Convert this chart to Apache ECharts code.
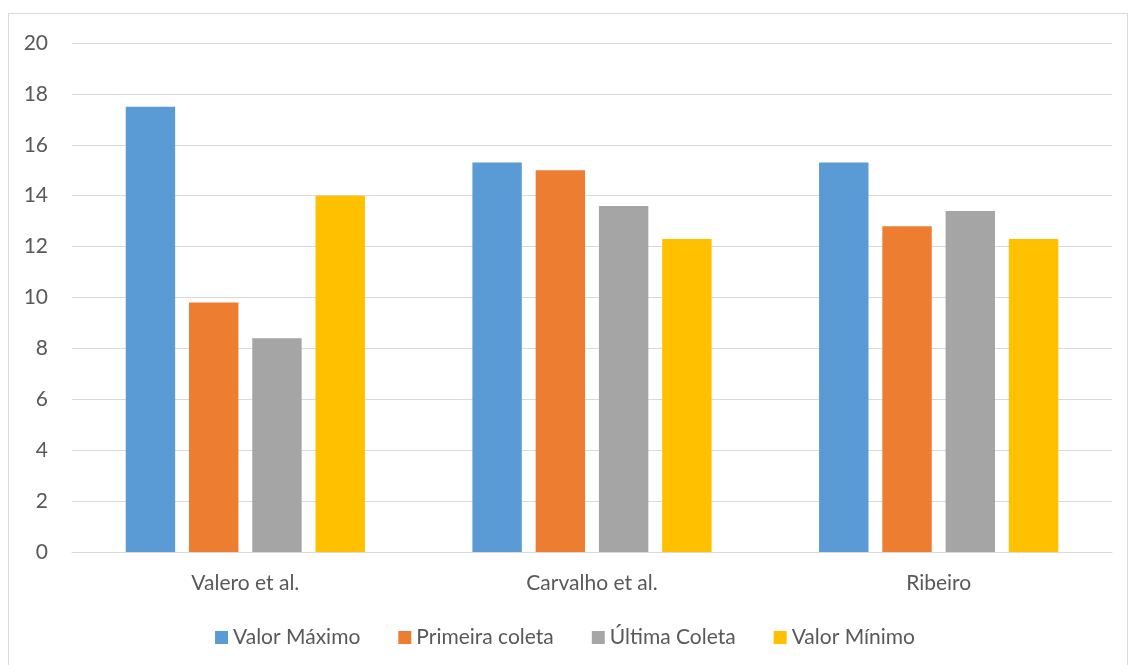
<!DOCTYPE html>
<html>
<head>
<meta charset="utf-8">
<title>Coletas</title>
<script src="https://cdn.jsdelivr.net/npm/echarts@6/dist/echarts.min.js"></script>
<style>
  html, body { margin: 0; padding: 0; background: #fff; }
  #frame { position: absolute; left: 8px; top: 13px; width: 1120px; height: 660px; border: 1px solid #d9d9d9; box-sizing: border-box; }
  #chart { position: absolute; left: 0; top: 0; width: 1130px; height: 665px; }
</style>
</head>
<body>
<div id="frame"></div>
<div id="chart"></div>
<script type="text/javascript">
var categories = ['Valero et al.', 'Carvalho et al.', 'Ribeiro'];
var seriesNames = ['Valor Máximo', 'Primeira coleta', 'Última Coleta', 'Valor Mínimo'];
var valorMaximo = [17.5, 15.3, 15.3];
var primeiraColeta = [9.8, 15.0, 12.8];
var ultimaColeta = [8.4, 13.6, 13.4];
var valorMinimo = [14.0, 12.3, 12.3];
var colors = ['#5B9BD5', '#ED7D31', '#A5A5A5', '#FFC000'];

var allValues = [valorMaximo, primeiraColeta, ultimaColeta, valorMinimo];
var series = [];
for (var i = 0; i < seriesNames.length; i++) {
    series.push({
        name: seriesNames[i],
        type: 'bar',
        data: allValues[i],
        barGap: '28%',
        barCategoryGap: '31%',
        itemStyle: { color: colors[i] }
    });
}

var myChart = echarts.init(document.getElementById('chart'), null, { renderer: 'canvas' });
var font = 'Lato, "Open Sans", sans-serif';
var option = {
    animation: false,
    color: colors,
    textStyle: { fontFamily: font },
    grid: { left: 72, right: 18, top: 43, bottom: 113, containLabel: false },
    legend: {
        bottom: 12,
        left: 'center',
        itemWidth: 13,
        itemHeight: 13,
        itemGap: 38,
        icon: 'rect',
        textStyle: { fontSize: 21, color: '#595959', fontFamily: font },
        data: seriesNames
    },
    xAxis: {
        type: 'category',
        data: categories,
        axisLine: { lineStyle: { color: '#d9d9d9', width: 1 } },
        axisTick: { show: false },
        axisLabel: { fontSize: 21, color: '#595959', margin: 21, fontFamily: font }
    },
    yAxis: {
        type: 'value',
        min: 0,
        max: 20,
        interval: 2,
        axisLine: { show: false },
        axisTick: { show: false },
        splitLine: { lineStyle: { color: '#d9d9d9', width: 1 } },
        axisLabel: { fontSize: 21, color: '#595959', margin: 24, fontFamily: font }
    },
    series: series
};
myChart.setOption(option);
</script>
</body>
</html>
